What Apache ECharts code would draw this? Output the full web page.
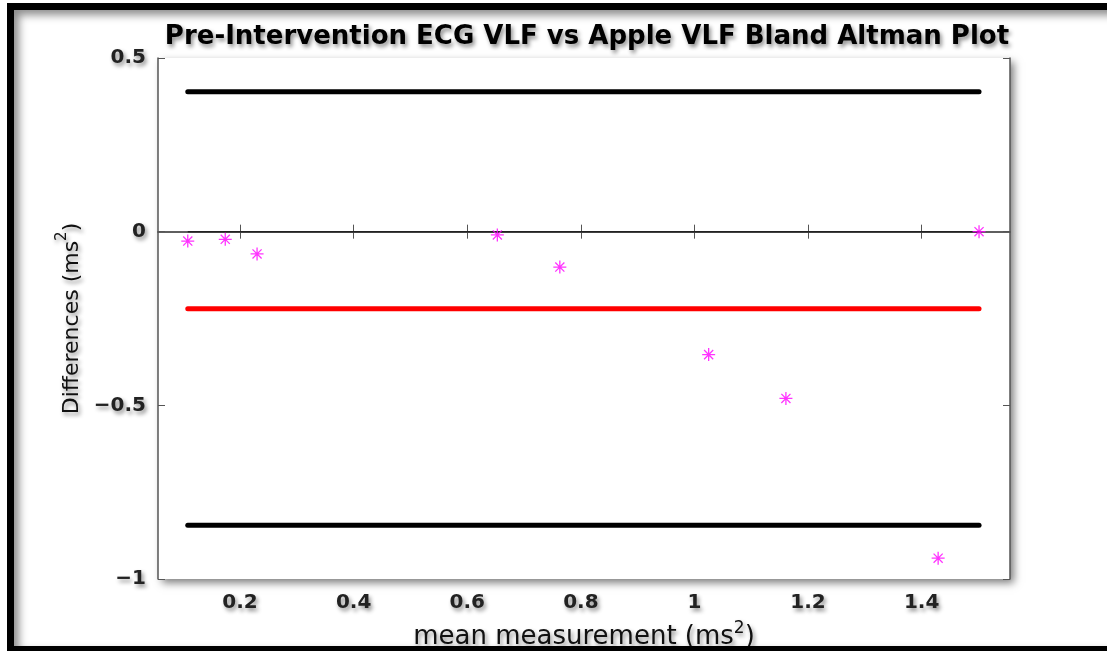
<!DOCTYPE html>
<html>
<head>
<meta charset="utf-8">
<script src="https://cdn.jsdelivr.net/npm/echarts@6/dist/echarts.min.js"></script>
<style>
html,body{margin:0;padding:0;background:#fff;width:1107px;height:651px;overflow:hidden;}
#frame{position:absolute;left:7px;top:3px;width:1120px;height:650px;border:7px solid #000;box-sizing:border-box;box-shadow:inset 5px 5px 9px rgba(0,0,0,0.45);pointer-events:none;z-index:2;}
#chart{position:absolute;left:0;top:0;width:1107px;height:651px;z-index:1;}
</style>
</head>
<body>
<div id="chart"></div>
<div id="frame"></div>
<script>
// Data
var meanMeasurement = [0.108, 0.174, 0.230, 0.653, 0.763, 1.025, 1.161, 1.429, 1.501];
var differences     = [-0.027, -0.022, -0.064, -0.0095, -0.102, -0.354, -0.480, -0.940, 0.000];
var meanDifference = -0.222;
var upperLimit = 0.403;
var lowerLimit = -0.845;
var zeroLevel = 0;
var xTicks = [0.2, 0.4, 0.6, 0.8, 1, 1.2, 1.4];
var yTicks = [-1, -0.5, 0, 0.5];
var titleText = 'Pre-Intervention ECG VLF vs Apple VLF Bland Altman Plot';

var xMin = 0.0556, xMax = 1.5555;
var yMin = -1, yMax = 0.5;

var lo = Math.min.apply(null, meanMeasurement);
var hi = Math.max.apply(null, meanMeasurement);

var shadow = {textShadowColor:'rgba(0,0,0,0.45)', textShadowBlur:4, textShadowOffsetX:2, textShadowOffsetY:3};
function fmt(v){ return (v < 0 ? '\u2212' + String(-v) : String(v)); }

var star = 'path://M0,4.5L10,4.5L10,5.5L0,5.5Z M4.5,0L5.5,0L5.5,10L4.5,10Z M1.85,1.15L8.85,8.15L8.15,8.85L1.15,1.85Z M8.85,1.85L1.85,8.85L1.15,8.15L8.15,1.15Z';

var axisLineStyle = {color:'#555', width:1.5};
var font = 'DejaVu Sans';

var chart = echarts.init(document.getElementById('chart'), null, {renderer:'canvas'});
chart.setOption({
  animation:false,
  backgroundColor:'transparent',
  title:{
    text:titleText, left:582, textAlign:'center', top:19,
    textStyle:Object.assign({fontFamily:font, fontWeight:'bold', fontSize:26, color:'#000'}, shadow)
  },
  grid:{left:158, top:58, right:97, bottom:72, containLabel:false, outerBoundsMode:'none',
        show:true, backgroundColor:'#fff', borderWidth:0,
        shadowBlur:8, shadowColor:'rgba(0,0,0,0.5)', shadowOffsetX:4, shadowOffsetY:4},
  xAxis:[{
    type:'value', min:xMin, max:xMax, position:'bottom',
    axisLine:{show:true, lineStyle:axisLineStyle},
    axisTick:{show:true, inside:true, length:7, lineStyle:{color:'#555', width:1}, customValues:xTicks},
    axisLabel:Object.assign({fontFamily:font, fontWeight:'bold', fontSize:20, color:'#222', margin:14, customValues:xTicks, formatter:fmt}, shadow),
    splitLine:{show:false},
    name:'{a|mean measurement (ms}{s|2}{a|)}', nameLocation:'middle', nameGap:41,
    nameTextStyle:Object.assign({rich:{
      a:Object.assign({fontFamily:font, fontSize:26, color:'#111', lineHeight:30, verticalAlign:'bottom'}, shadow),
      s:Object.assign({fontFamily:font, fontSize:17, color:'#111', lineHeight:30, verticalAlign:'top', padding:[0,0,14,0]}, shadow)
    }}, shadow)
  },{
    type:'value', min:xMin, max:xMax, position:'top',
    axisLine:{show:true, lineStyle:axisLineStyle},
    axisTick:{show:true, inside:true, length:7, lineStyle:{color:'#555', width:1}, customValues:xTicks},
    axisLabel:{show:false}, splitLine:{show:false}
  }],
  yAxis:[{
    type:'value', min:yMin, max:yMax, interval:0.5, position:'left',
    axisLine:{show:true, lineStyle:axisLineStyle},
    axisTick:{show:true, inside:true, length:7, lineStyle:{color:'#555', width:1}, customValues:yTicks},
    axisLabel:Object.assign({fontFamily:font, fontWeight:'bold', fontSize:20, color:'#222', margin:12, customValues:yTicks, formatter:fmt}, shadow),
    splitLine:{show:false},
    name:'{a|Differences (ms}{s|2}{a|)}', nameLocation:'middle', nameRotate:90, nameGap:66,
    nameTextStyle:Object.assign({rich:{
      a:Object.assign({fontFamily:font, fontSize:22, color:'#111', lineHeight:28, verticalAlign:'bottom'}, shadow),
      s:Object.assign({fontFamily:font, fontSize:15, color:'#111', lineHeight:28, verticalAlign:'top', padding:[0,0,12,0]}, shadow)
    }}, shadow)
  },{
    type:'value', min:yMin, max:yMax, interval:0.5, position:'right',
    axisLine:{show:true, lineStyle:axisLineStyle},
    axisTick:{show:true, inside:true, length:7, lineStyle:{color:'#555', width:1}, customValues:yTicks},
    axisLabel:{show:false}, splitLine:{show:false}
  }],
  series:[
    {type:'line', name:'zero', data:[[lo, zeroLevel],[hi, zeroLevel]], symbol:'none', lineStyle:{color:'#222', width:1.5}, z:2, silent:true},
    {type:'line', name:'mean', data:[[lo, meanDifference],[hi, meanDifference]], symbol:'none', lineStyle:{color:'#ff0000', width:5, cap:'round'}, z:3, silent:true},
    {type:'line', name:'upper', data:[[lo, upperLimit],[hi, upperLimit]], symbol:'none', lineStyle:{color:'#000', width:5, cap:'round'}, z:3, silent:true},
    {type:'line', name:'lower', data:[[lo, lowerLimit],[hi, lowerLimit]], symbol:'none', lineStyle:{color:'#000', width:5, cap:'round'}, z:3, silent:true},
    {type:'scatter', name:'points', data:meanMeasurement.map(function(x,i){return [x, differences[i]];}),
     symbol:star, symbolSize:13, itemStyle:{color:'#ff00ff'}, z:4, silent:true}
  ]
});
</script>
</body>
</html>
